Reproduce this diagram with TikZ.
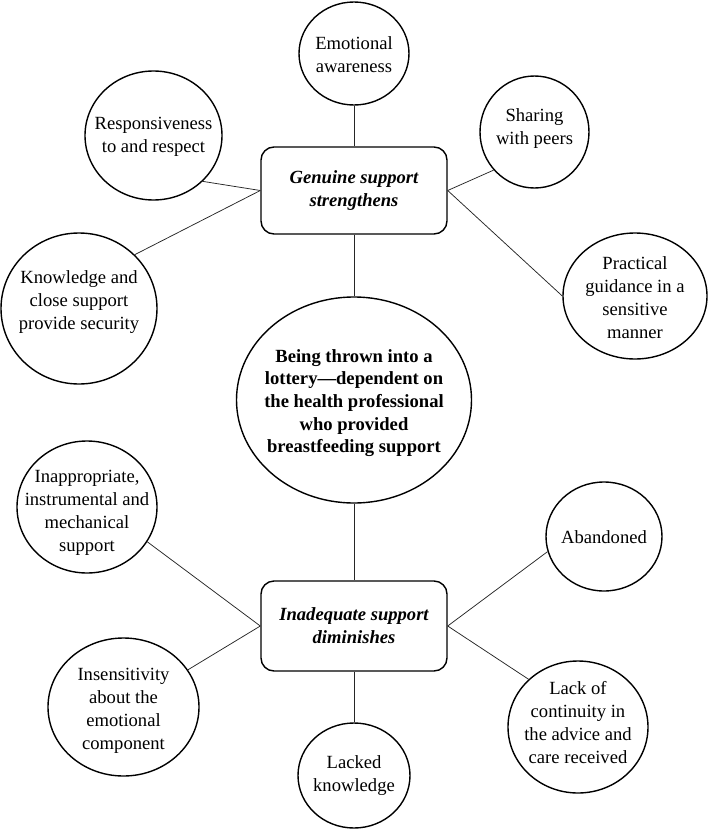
\documentclass[tikz,border=0pt]{standalone}
\usepackage{fontspec}
\setmainfont{Liberation Serif}
\usetikzlibrary{shapes.geometric}
\begin{document}
\begin{tikzpicture}[x=1pt,y=-1pt,
  txt/.style={align=center, inner sep=0pt, font=\fontsize{18.6}{23}\selectfont},
  bubble/.style={ellipse, draw=black, line width=1.4pt, inner sep=0pt},
  themebox/.style={draw=black, rounded corners=13pt, line width=1.4pt, minimum width=186pt, inner sep=0pt, align=center, font=\fontsize{18.6}{23}\selectfont\bfseries\itshape},
  link/.style={draw=black!85, line width=0.75pt}]
\useasboundingbox (0,0) rectangle (709,830);
% ellipses
\node[bubble, minimum width=110pt, minimum height=103pt] (emo) at (354,53.5) {};
\node[txt] (emo-t) at (354,55) {Emotional\\awareness};
\node[bubble, minimum width=137pt, minimum height=129pt] (resp) at (153.5,135.5) {};
\node[txt] (resp-t) at (153.5,136.5) {Responsiveness\\to and respect};
\node[bubble, minimum width=109pt, minimum height=112pt] (share) at (534.5,132) {};
\node[txt] (share-t) at (534.5,129) {Sharing\\with peers};
\node[bubble, minimum width=156pt, minimum height=151pt] (know) at (79,308.5) {};
\node[txt] (know-t) at (79,302.5) {Knowledge and\\close support\\provide security};
\node[bubble, minimum width=144pt, minimum height=126pt] (prac) at (635,296) {};
\node[txt] (prac-t) at (635,298) {Practical\\guidance in a\\sensitive\\manner};
\node[bubble, minimum width=235pt, minimum height=206pt] (core) at (354,400) {};
\node[txt, font=\fontsize{18.6}{22.7}\selectfont\bfseries] (core-t) at (354,403) {Being thrown into a\\lottery---dependent on\\the health professional\\who provided\\breastfeeding support};
\node[bubble, minimum width=140pt, minimum height=132pt] (inapp) at (87,507) {};
\node[txt] (inapp-t) at (87,513) {Inappropriate,\\instrumental and\\mechanical\\support};
\node[bubble, minimum width=116pt, minimum height=109pt] (aband) at (604,536.5) {};
\node[txt] (aband-t) at (604,537) {Abandoned};
\node[bubble, minimum width=151pt, minimum height=138pt] (insens) at (123.5,707) {};
\node[txt] (insens-t) at (123.5,711) {Insensitivity\\about the\\emotional\\component};
\node[bubble, minimum width=140pt, minimum height=132pt] (lack) at (578,727) {};
\node[txt] (lack-t) at (578,723) {Lack of\\continuity in\\the advice and\\care received};
\node[bubble, minimum width=112pt, minimum height=105pt] (lacked) at (354,775.5) {};
\node[txt] (lacked-t) at (354,776) {Lacked\\knowledge};
% theme boxes
\node[themebox, minimum height=87pt] (gen) at (354,190.5) {Genuine support\\strengthens};
\node[themebox, minimum height=90pt] (inad) at (354,626) {Inadequate support\\diminishes};
% connectors
\draw[link] (emo.south) -- (gen.north);
\draw[link] (resp.-43) -- (gen.west);
\draw[link] (know.44) -- (gen.west);
\draw[link] (share.-137) -- (gen.east);
\draw[link] (prac.180) -- (gen.east);
\draw[link] (gen.south) -- (core.north);
\draw[link] (core.south) -- (inad.north);
\draw[link] (inapp.-30) -- (inad.west);
\draw[link] (insens.30) -- (inad.west);
\draw[link] (aband.195) -- (inad.east);
\draw[link] (lack.136) -- (inad.east);
\draw[link] (inad.south) -- (lacked.north);
\end{tikzpicture}
\end{document}
